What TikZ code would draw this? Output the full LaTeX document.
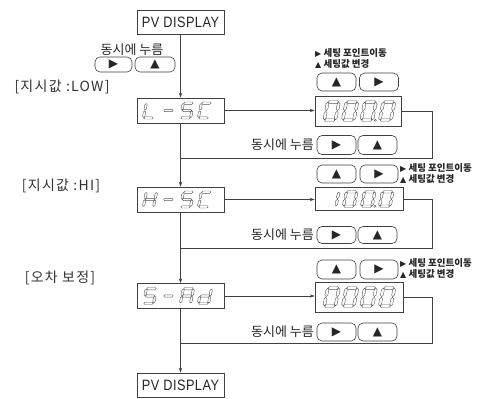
\documentclass[tikz,border=0pt]{standalone}
\usepackage{fontspec}
\setmainfont{Noto Sans CJK KR}
\newfontfamily\sym{DejaVu Sans}
\newfontfamily\pvf{Liberation Sans}[FakeStretch=0.85, LetterSpace=3]
\newfontfamily\sidef{Noto Sans CJK KR}[LetterSpace=9]
\usetikzlibrary{arrows.meta}

\tikzset{
  ln/.style={draw=black!75, line width=0.55pt},
  arr/.style={ln, -{Stealth[length=5pt,width=3.2pt]}},
  pvbox/.style={draw=black!75, line width=0.6pt, minimum width=87pt, minimum height=24pt, inner sep=0pt, font=\pvf\fontsize{15}{15}\selectfont, text=black!85},
  segbox/.style={draw=black!75, line width=0.6pt, minimum width=87pt, minimum height=25pt, inner sep=0pt},
  dispbox/.style={draw=black!75, line width=0.6pt, minimum width=86pt, minimum height=30pt, inner sep=0pt},
  btn/.style={draw=black!75, line width=0.6pt, rounded corners=5pt, minimum width=39pt, minimum height=18pt, inner sep=0pt, font=\sym\fontsize{12}{12}\selectfont, text=black!85},
  press/.style={font=\fontsize{13}{13}\selectfont, text=black!85, inner sep=0pt},
  side/.style={font=\sidef\fontsize{14}{14}\selectfont, text=black!80, inner sep=0pt},
  hint/.style={font=\bfseries\fontsize{9.5}{9.5}\selectfont, text=black!85, inner sep=0pt, anchor=west},
  segline/.style={draw=black!65, line width=0.4pt, line join=round},
}

\newcommand{\hsg}[3]{\draw[segline] ({#1+\dgg},{#3}) -- ({#1+\dgg+\dgt},{#3-\dgt}) -- ({#2-\dgg-\dgt},{#3-\dgt}) -- ({#2-\dgg},{#3}) -- ({#2-\dgg-\dgt},{#3+\dgt}) -- ({#1+\dgg+\dgt},{#3+\dgt}) -- cycle;}
\newcommand{\vsg}[3]{\draw[segline] ({#1},{#2+\dgg}) -- ({#1+\dgt},{#2+\dgg+\dgt}) -- ({#1+\dgt},{#3-\dgg-\dgt}) -- ({#1},{#3-\dgg}) -- ({#1-\dgt},{#3-\dgg-\dgt}) -- ({#1-\dgt},{#2+\dgg+\dgt}) -- cycle;}
\newcommand{\zA}{\hsg{\dgt}{\dgw-\dgt}{-\dgh+\dgt}}
\newcommand{\zG}{\hsg{\dgt}{\dgw-\dgt}{-\dgh/2}}
\newcommand{\zD}{\hsg{\dgt}{\dgw-\dgt}{-\dgt}}
\newcommand{\zF}{\vsg{\dgt}{-\dgh+\dgt}{-\dgh/2}}
\newcommand{\zB}{\vsg{\dgw-\dgt}{-\dgh+\dgt}{-\dgh/2}}
\newcommand{\zE}{\vsg{\dgt}{-\dgh/2}{-\dgt}}
\newcommand{\zC}{\vsg{\dgw-\dgt}{-\dgh/2}{-\dgt}}
\newcommand{\zP}{\draw[segline] ({\dgw+1.6},-1.2) circle (1.1pt);}
\newcommand{\sdig}[3]{\begin{scope}[shift={(#1,#2)},xslant=0.2]#3\end{scope}}

\begin{document}
\begin{tikzpicture}[x=1pt,y=-1pt]
\useasboundingbox[fill=white] (0,0) rectangle (485,399);

% stage 0
\node[pvbox] (pv1) at (180.5,22) {PV DISPLAY};
\node[press] (p0) at (132,50) {동시에 누름};
\node[btn, minimum width=37pt, minimum height=15pt] (b0r) at (113.5,64.5) {▶};
\node[btn, minimum width=40pt, minimum height=15pt] (b0u) at (155,64.5) {▲};

% stage 1
\node[side] (low) at (62,87) {[지시값 :LOW]};
\node[segbox] (lsc) at (180.5,110.5) {};
\node[dispbox] (d1) at (358,111) {};
\node[hint] (h1a) at (315,53) {{\sym\fontsize{8}{8}\selectfont ▶} 세팅 포인트이동};
\node[hint] (h1b) at (315,63.5) {{\sym\fontsize{8}{8}\selectfont ▲} 세팅값 변경};
\node[btn] (u1) at (336.5,82) {▲};
\node[btn] (r1) at (379,82) {▶};
\node[press, anchor=east] (p1) at (314,145) {동시에 누름};
\node[btn, minimum height=19pt] (r2) at (336.5,145) {▶};
\node[btn, minimum height=19pt] (u2) at (377.5,145) {▲};
\coordinate (c1) at (432,158);
\coordinate (j1) at (180.5,158);

% stage 2
\node[side] (hi) at (61,186) {[지시값 :HI]};
\node[segbox] (hsc) at (180.5,199.5) {};
\node[dispbox, minimum width=88pt, minimum height=23pt] (d2) at (359,199) {};
\node[btn] (u3) at (336.5,174) {▲};
\node[btn, minimum width=38pt] (r3) at (379,174) {▶};
\node[hint] (h2a) at (400,168) {{\sym\fontsize{8}{8}\selectfont ▶} 세팅 포인트이동};
\node[hint] (h2b) at (400,179) {{\sym\fontsize{8}{8}\selectfont ▲} 세팅값 변경};
\node[press, anchor=east] (p2) at (314,235) {동시에 누름};
\node[btn, minimum height=17pt] (r4) at (336.5,235) {▶};
\node[btn, minimum height=17pt] (u4) at (377.5,235) {▲};
\coordinate (c2) at (432,248);
\coordinate (j2) at (180.5,248);

% stage 3
\node[side] (err) at (60,278) {[오차 보정]};
\node[segbox] (sad) at (180.5,296) {};
\node[dispbox, minimum width=88pt] (d3) at (359,297) {};
\node[btn, minimum height=19pt] (u5) at (336.5,269.5) {▲};
\node[btn, minimum height=19pt, minimum width=38pt] (r5) at (379,269.5) {▶};
\node[hint] (h3a) at (400,263) {{\sym\fontsize{8}{8}\selectfont ▶} 세팅 포인트이동};
\node[hint] (h3b) at (400,274) {{\sym\fontsize{8}{8}\selectfont ▲} 세팅값 변경};
\node[press, anchor=east] (p3) at (314,332) {동시에 누름};
\node[btn] (r6) at (336.5,332) {▶};
\node[btn] (u6) at (377.5,332) {▲};
\coordinate (c3) at (432,343);
\coordinate (j3) at (180.5,343);

\node[pvbox] (pv2) at (180.5,385) {PV DISPLAY};

% connectors
\draw[arr] (pv1) -- (lsc);
\draw[arr] (lsc) -- (hsc);
\draw[arr] (hsc) -- (sad);
\draw[arr] (sad) -- (pv2);
\draw[arr] (lsc.east) -- (lsc.east -| d1.west);
\draw[arr] (hsc.east) -- (hsc.east -| d2.west);
\draw[arr] (sad.east) -- (sad.east -| d3.west);
\draw[ln] (d1.east) -| (c1) -- (j1);
\draw[ln] (d2.east) -| (c2) -- (j2);
\draw[ln] (d3.east) -| (c3) -- (j3);

% seven-segment characters
\begin{scope}
\def\dgw{12.5}\def\dgh{17}\def\dgt{1.15}\def\dgg{0.35}
\sdig{142}{119}{\zF\zE\zD}
\sdig{160.5}{119}{\zG}
\sdig{179}{119}{\zA\zF\zG\zC\zD}
\sdig{197}{119}{\zA\zF\zE\zD}
\sdig{142}{208}{\zF\zE\zB\zC\zG}
\sdig{160.5}{208}{\zG}
\sdig{179}{208}{\zA\zF\zG\zC\zD}
\sdig{197}{208}{\zA\zF\zE\zD}
\sdig{142}{304.5}{\zA\zF\zG\zC\zD}
\sdig{160.5}{304.5}{\zG}
\sdig{179}{304.5}{\zA\zB\zC\zE\zF\zG}
\sdig{197}{304.5}{\zB\zC\zD\zE\zG}
\end{scope}
\begin{scope}
\def\dgw{14}\def\dgh{21}\def\dgt{1.4}\def\dgg{0.4}
\sdig{322.5}{121.5}{\zA\zB\zC\zD\zE\zF}
\sdig{341}{121.5}{\zA\zB\zC\zD\zE\zF}
\sdig{359.5}{121.5}{\zA\zB\zC\zD\zE\zF\zP}
\sdig{378}{121.5}{\zA\zB\zC\zD\zE\zF}
\sdig{322.5}{307.5}{\zA\zB\zC\zD\zE\zF}
\sdig{341}{307.5}{\zA\zB\zC\zD\zE\zF}
\sdig{359.5}{307.5}{\zA\zB\zC\zD\zE\zF}
\sdig{378}{307.5}{\zA\zB\zC\zD\zE\zF}
\end{scope}
\begin{scope}
\def\dgw{13}\def\dgh{17}\def\dgt{1.25}\def\dgg{0.35}
\sdig{324}{207.5}{\zB\zC}
\sdig{342}{207.5}{\zA\zB\zC\zD\zE\zF}
\sdig{360}{207.5}{\zA\zB\zC\zD\zE\zF\zP}
\sdig{378}{207.5}{\zA\zB\zC\zD\zE\zF}
\end{scope}
\end{tikzpicture}
\end{document}
